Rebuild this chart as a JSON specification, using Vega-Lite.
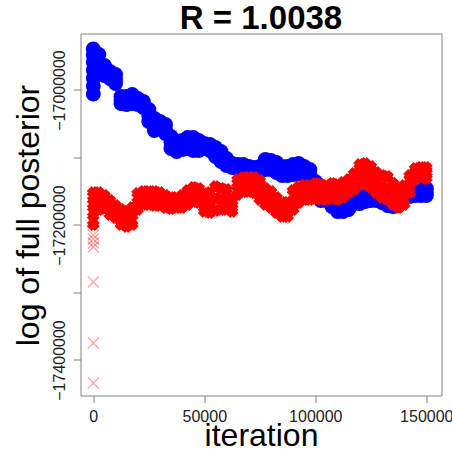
{
"$schema": "https://vega.github.io/schema/vega-lite/v6.json",
"width": 361,
"height": 362,
"autosize": {"type": "none"},
"padding": {"left": 80.5, "top": 33.5, "right": 10.5, "bottom": 55.5},
"background": "white",
"config": {
  "view": {"stroke": "#808080", "strokeWidth": 1},
  "font": "Liberation Sans"
},
"title": {"text": "R = 1.0038", "font": "Liberation Sans", "fontSize": 33, "fontWeight": "bold", "color": "#000", "anchor": "middle", "frame": "group", "baseline": "alphabetic", "offset": 1, "dy": 29.5},
"datasets": {
"b": [
{"iter":0,"lp":-17005900},{"iter":0,"lp":-16994100},{"iter":0,"lp":-16982200},{"iter":0,"lp":-16970400},{"iter":0,"lp":-16958500},{"iter":0,"lp":-16948100},{"iter":0,"lp":-16939300},
{"iter":2500,"lp":-16947400},{"iter":2500,"lp":-16958500},{"iter":2500,"lp":-16969600},
{"iter":5000,"lp":-16963700},{"iter":5000,"lp":-16971100},{"iter":5000,"lp":-16978500},
{"iter":7500,"lp":-16972600},{"iter":7500,"lp":-16977800},{"iter":7500,"lp":-16983000},
{"iter":10000,"lp":-16977000},{"iter":10000,"lp":-16983700},{"iter":10000,"lp":-16990400},
{"iter":12500,"lp":-17009600},{"iter":12500,"lp":-17014800},{"iter":12500,"lp":-17020000},
{"iter":15000,"lp":-17009600},{"iter":15000,"lp":-17014800},{"iter":15000,"lp":-17021500},
{"iter":17500,"lp":-17006700},{"iter":17500,"lp":-17011900},{"iter":17500,"lp":-17020000},
{"iter":20000,"lp":-17012600},{"iter":20000,"lp":-17017800},{"iter":20000,"lp":-17021500},
{"iter":22500,"lp":-17017000},{"iter":22500,"lp":-17021500},{"iter":22500,"lp":-17025900},
{"iter":25000,"lp":-17028900},{"iter":25000,"lp":-17037800},{"iter":25000,"lp":-17046700},
{"iter":27500,"lp":-17042200},{"iter":27500,"lp":-17051100},{"iter":27500,"lp":-17060000},
{"iter":30000,"lp":-17046700},{"iter":30000,"lp":-17051900},{"iter":30000,"lp":-17057000},
{"iter":32500,"lp":-17051100},{"iter":32500,"lp":-17057800},{"iter":32500,"lp":-17064400},
{"iter":35000,"lp":-17068900},{"iter":35000,"lp":-17077800},{"iter":35000,"lp":-17086700},
{"iter":37500,"lp":-17079300},{"iter":37500,"lp":-17085200},{"iter":37500,"lp":-17091100},
{"iter":40000,"lp":-17074800},{"iter":40000,"lp":-17081500},{"iter":40000,"lp":-17088100},
{"iter":42500,"lp":-17070400},{"iter":42500,"lp":-17078500},{"iter":42500,"lp":-17086700},
{"iter":45000,"lp":-17070400},{"iter":45000,"lp":-17080000},{"iter":45000,"lp":-17089600},
{"iter":47500,"lp":-17074800},{"iter":47500,"lp":-17082200},{"iter":47500,"lp":-17089600},
{"iter":50000,"lp":-17079300},{"iter":50000,"lp":-17083000},{"iter":50000,"lp":-17086700},
{"iter":52500,"lp":-17080700},{"iter":52500,"lp":-17085200},{"iter":52500,"lp":-17089600},
{"iter":55000,"lp":-17085200},{"iter":55000,"lp":-17091900},{"iter":55000,"lp":-17098500},
{"iter":57500,"lp":-17091100},{"iter":57500,"lp":-17098500},{"iter":57500,"lp":-17105900},
{"iter":60000,"lp":-17101500},{"iter":60000,"lp":-17106700},{"iter":60000,"lp":-17111900},
{"iter":62500,"lp":-17108900},{"iter":62500,"lp":-17111900},{"iter":62500,"lp":-17114800},
{"iter":65000,"lp":-17110400},{"iter":65000,"lp":-17113300},{"iter":65000,"lp":-17116300},
{"iter":67500,"lp":-17110400},{"iter":67500,"lp":-17113300},{"iter":67500,"lp":-17116300},
{"iter":70000,"lp":-17113300},{"iter":70000,"lp":-17114100},{"iter":70000,"lp":-17114800},
{"iter":72500,"lp":-17114800},{"iter":72500,"lp":-17116300},{"iter":72500,"lp":-17117800},
{"iter":75000,"lp":-17113300},{"iter":75000,"lp":-17117000},{"iter":75000,"lp":-17120700},
{"iter":77500,"lp":-17103000},{"iter":77500,"lp":-17110400},{"iter":77500,"lp":-17117800},
{"iter":80000,"lp":-17104400},{"iter":80000,"lp":-17111100},{"iter":80000,"lp":-17117800},
{"iter":82500,"lp":-17107400},{"iter":82500,"lp":-17114800},{"iter":82500,"lp":-17122200},
{"iter":85000,"lp":-17113300},{"iter":85000,"lp":-17120000},{"iter":85000,"lp":-17126700},
{"iter":87500,"lp":-17113300},{"iter":87500,"lp":-17120000},{"iter":87500,"lp":-17126700},
{"iter":90000,"lp":-17110400},{"iter":90000,"lp":-17117800},{"iter":90000,"lp":-17125200},
{"iter":92500,"lp":-17108900},{"iter":92500,"lp":-17116300},{"iter":92500,"lp":-17123700},
{"iter":95000,"lp":-17113300},{"iter":95000,"lp":-17120000},{"iter":95000,"lp":-17125200},
{"iter":97500,"lp":-17117800},{"iter":97500,"lp":-17124400},{"iter":97500,"lp":-17131100},
{"iter":100000,"lp":-17135600},{"iter":100000,"lp":-17144400},{"iter":100000,"lp":-17153300},
{"iter":102500,"lp":-17150400},{"iter":102500,"lp":-17157000},{"iter":102500,"lp":-17163700},
{"iter":105000,"lp":-17150400},{"iter":105000,"lp":-17157000},{"iter":105000,"lp":-17163700},
{"iter":107500,"lp":-17160700},{"iter":107500,"lp":-17166700},{"iter":107500,"lp":-17172600},
{"iter":110000,"lp":-17166700},{"iter":110000,"lp":-17173300},{"iter":110000,"lp":-17180000},
{"iter":112500,"lp":-17166700},{"iter":112500,"lp":-17173300},{"iter":112500,"lp":-17180000},
{"iter":115000,"lp":-17163700},{"iter":115000,"lp":-17170400},{"iter":115000,"lp":-17177000},
{"iter":117500,"lp":-17154800},{"iter":117500,"lp":-17161500},{"iter":117500,"lp":-17168200},
{"iter":120000,"lp":-17153300},{"iter":120000,"lp":-17160700},{"iter":120000,"lp":-17168200},
{"iter":122500,"lp":-17151900},{"iter":122500,"lp":-17158500},{"iter":122500,"lp":-17165200},
{"iter":125000,"lp":-17151900},{"iter":125000,"lp":-17157800},{"iter":125000,"lp":-17163700},
{"iter":127500,"lp":-17151900},{"iter":127500,"lp":-17157800},{"iter":127500,"lp":-17163700},
{"iter":130000,"lp":-17154800},{"iter":130000,"lp":-17160700},{"iter":130000,"lp":-17166700},
{"iter":132500,"lp":-17157800},{"iter":132500,"lp":-17164400},{"iter":132500,"lp":-17171100},
{"iter":135000,"lp":-17159300},{"iter":135000,"lp":-17165900},{"iter":135000,"lp":-17172600},
{"iter":137500,"lp":-17157800},{"iter":137500,"lp":-17164400},{"iter":137500,"lp":-17171100},
{"iter":140000,"lp":-17147400},{"iter":140000,"lp":-17154100},{"iter":140000,"lp":-17160700},
{"iter":142500,"lp":-17144400},{"iter":142500,"lp":-17151100},{"iter":142500,"lp":-17157800},
{"iter":145000,"lp":-17143000},{"iter":145000,"lp":-17149600},{"iter":145000,"lp":-17156300},
{"iter":147500,"lp":-17144400},{"iter":147500,"lp":-17150400},{"iter":147500,"lp":-17156300},
{"iter":150000,"lp":-17145900},{"iter":150000,"lp":-17151100},{"iter":150000,"lp":-17156300}
],
"r": [
{"iter":0,"lp":-17151900},{"iter":0,"lp":-17163000},{"iter":0,"lp":-17174800},{"iter":0,"lp":-17186700},{"iter":0,"lp":-17199300},
{"iter":2500,"lp":-17151900},{"iter":2500,"lp":-17164400},{"iter":2500,"lp":-17177000},
{"iter":5000,"lp":-17156300},{"iter":5000,"lp":-17165900},{"iter":5000,"lp":-17175600},
{"iter":7500,"lp":-17163700},{"iter":7500,"lp":-17174100},{"iter":7500,"lp":-17184400},
{"iter":10000,"lp":-17171100},{"iter":10000,"lp":-17180000},{"iter":10000,"lp":-17188900},
{"iter":12500,"lp":-17177000},{"iter":12500,"lp":-17188200},{"iter":12500,"lp":-17199300},
{"iter":15000,"lp":-17180000},{"iter":15000,"lp":-17191100},{"iter":15000,"lp":-17202200},
{"iter":17500,"lp":-17174100},{"iter":17500,"lp":-17186700},{"iter":17500,"lp":-17199300},
{"iter":20000,"lp":-17153300},{"iter":20000,"lp":-17165200},{"iter":20000,"lp":-17177000},
{"iter":22500,"lp":-17150400},{"iter":22500,"lp":-17160000},{"iter":22500,"lp":-17169600},
{"iter":25000,"lp":-17150400},{"iter":25000,"lp":-17160000},{"iter":25000,"lp":-17169600},
{"iter":27500,"lp":-17150400},{"iter":27500,"lp":-17160700},{"iter":27500,"lp":-17171100},
{"iter":30000,"lp":-17151900},{"iter":30000,"lp":-17161500},{"iter":30000,"lp":-17171100},
{"iter":32500,"lp":-17156300},{"iter":32500,"lp":-17165200},{"iter":32500,"lp":-17174100},
{"iter":35000,"lp":-17159300},{"iter":35000,"lp":-17167400},{"iter":35000,"lp":-17175600},
{"iter":37500,"lp":-17159300},{"iter":37500,"lp":-17166700},{"iter":37500,"lp":-17174100},
{"iter":40000,"lp":-17156300},{"iter":40000,"lp":-17165200},{"iter":40000,"lp":-17174100},
{"iter":42500,"lp":-17148900},{"iter":42500,"lp":-17159300},{"iter":42500,"lp":-17169600},
{"iter":45000,"lp":-17144400},{"iter":45000,"lp":-17154800},{"iter":45000,"lp":-17165200},
{"iter":47500,"lp":-17145900},{"iter":47500,"lp":-17156300},{"iter":47500,"lp":-17166700},
{"iter":50000,"lp":-17153300},{"iter":50000,"lp":-17166700},{"iter":50000,"lp":-17180000},
{"iter":52500,"lp":-17151900},{"iter":52500,"lp":-17166700},{"iter":52500,"lp":-17181500},
{"iter":55000,"lp":-17143000},{"iter":55000,"lp":-17160700},{"iter":55000,"lp":-17178500},
{"iter":57500,"lp":-17145900},{"iter":57500,"lp":-17161500},{"iter":57500,"lp":-17177000},
{"iter":60000,"lp":-17147400},{"iter":60000,"lp":-17162200},{"iter":60000,"lp":-17177000},
{"iter":62500,"lp":-17160700},{"iter":62500,"lp":-17170400},{"iter":62500,"lp":-17180000},
{"iter":65000,"lp":-17132600},{"iter":65000,"lp":-17143700},{"iter":65000,"lp":-17154800},
{"iter":67500,"lp":-17129600},{"iter":67500,"lp":-17140000},{"iter":67500,"lp":-17150400},
{"iter":70000,"lp":-17129600},{"iter":70000,"lp":-17140000},{"iter":70000,"lp":-17150400},
{"iter":72500,"lp":-17129600},{"iter":72500,"lp":-17140700},{"iter":72500,"lp":-17151900},
{"iter":75000,"lp":-17134100},{"iter":75000,"lp":-17148200},{"iter":75000,"lp":-17162200},
{"iter":77500,"lp":-17145900},{"iter":77500,"lp":-17157800},{"iter":77500,"lp":-17169600},
{"iter":80000,"lp":-17150400},{"iter":80000,"lp":-17162200},{"iter":80000,"lp":-17174100},
{"iter":82500,"lp":-17159300},{"iter":82500,"lp":-17170400},{"iter":82500,"lp":-17181500},
{"iter":85000,"lp":-17166700},{"iter":85000,"lp":-17177000},{"iter":85000,"lp":-17187400},
{"iter":87500,"lp":-17166700},{"iter":87500,"lp":-17177000},{"iter":87500,"lp":-17187400},
{"iter":90000,"lp":-17148900},{"iter":90000,"lp":-17163000},{"iter":90000,"lp":-17177000},
{"iter":92500,"lp":-17143000},{"iter":92500,"lp":-17154800},{"iter":92500,"lp":-17166700},
{"iter":95000,"lp":-17141500},{"iter":95000,"lp":-17151900},{"iter":95000,"lp":-17162200},
{"iter":97500,"lp":-17141500},{"iter":97500,"lp":-17151900},{"iter":97500,"lp":-17162200},
{"iter":100000,"lp":-17138500},{"iter":100000,"lp":-17149600},{"iter":100000,"lp":-17160700},
{"iter":102500,"lp":-17140000},{"iter":102500,"lp":-17151100},{"iter":102500,"lp":-17162200},
{"iter":105000,"lp":-17141500},{"iter":105000,"lp":-17151900},{"iter":105000,"lp":-17162200},
{"iter":107500,"lp":-17138500},{"iter":107500,"lp":-17149600},{"iter":107500,"lp":-17160700},
{"iter":110000,"lp":-17140000},{"iter":110000,"lp":-17151100},{"iter":110000,"lp":-17162200},
{"iter":112500,"lp":-17137000},{"iter":112500,"lp":-17148200},{"iter":112500,"lp":-17159300},
{"iter":115000,"lp":-17132600},{"iter":115000,"lp":-17142200},{"iter":115000,"lp":-17151900},
{"iter":117500,"lp":-17123700},{"iter":117500,"lp":-17135600},{"iter":117500,"lp":-17147400},
{"iter":120000,"lp":-17110400},{"iter":120000,"lp":-17125200},{"iter":120000,"lp":-17140000},
{"iter":122500,"lp":-17108900},{"iter":122500,"lp":-17124400},{"iter":122500,"lp":-17140000},
{"iter":125000,"lp":-17113300},{"iter":125000,"lp":-17128900},{"iter":125000,"lp":-17144400},
{"iter":127500,"lp":-17122200},{"iter":127500,"lp":-17137000},{"iter":127500,"lp":-17151900},
{"iter":130000,"lp":-17126700},{"iter":130000,"lp":-17143000},{"iter":130000,"lp":-17159300},
{"iter":132500,"lp":-17128100},{"iter":132500,"lp":-17145200},{"iter":132500,"lp":-17162200},
{"iter":135000,"lp":-17138500},{"iter":135000,"lp":-17154100},{"iter":135000,"lp":-17169600},
{"iter":137500,"lp":-17145900},{"iter":137500,"lp":-17160000},{"iter":137500,"lp":-17174100},
{"iter":140000,"lp":-17141500},{"iter":140000,"lp":-17155600},{"iter":140000,"lp":-17169600},
{"iter":142500,"lp":-17126700},{"iter":142500,"lp":-17139300},{"iter":142500,"lp":-17151900},
{"iter":145000,"lp":-17116300},{"iter":145000,"lp":-17124400},{"iter":145000,"lp":-17132600},
{"iter":147500,"lp":-17114800},{"iter":147500,"lp":-17122200},{"iter":147500,"lp":-17129600},
{"iter":150000,"lp":-17114800},{"iter":150000,"lp":-17123000},{"iter":150000,"lp":-17131100}
],
"p": [
{"iter":0,"lp":-17214800},{"iter":0,"lp":-17220700},{"iter":0,"lp":-17226700},{"iter":0,"lp":-17232600},
{"iter":0,"lp":-17284400},{"iter":0,"lp":-17374800},{"iter":0,"lp":-17434100}
]
},
"encoding": {
  "x": {"field": "iter", "type": "quantitative",
    "scale": {"domain": [-5766, 156847], "nice": false, "zero": false},
    "axis": {"values": [0, 50000, 100000, 150000], "format": "d", "title": "iteration",
      "domain": false, "grid": false, "tickSize": 7, "tickColor": "#808080", "tickWidth": 1,
      "labelFont": "Liberation Sans", "labelFontSize": 16, "labelColor": "#222", "labelPadding": 6,
      "labelFlush": false, "labelOverlap": false, "labelAlign": "center", "labelBaseline": "top",
      "titleFont": "Liberation Sans", "titleFontSize": 32, "titleFontWeight": "normal", "titleColor": "#000",
      "titleX": 180.5, "titleY": 50, "titleAlign": "center", "titleBaseline": "alphabetic"}},
  "y": {"field": "lp", "type": "quantitative",
    "scale": {"domain": [-17452600, -16916300], "nice": false, "zero": false},
    "axis": {"values": [-17000000, -17100000, -17200000, -17300000, -17400000],
      "labelExpr": "datum.value % 200000 == 0 ? format(datum.value, 'd') : ''",
      "title": "log of full posterior",
      "domain": false, "grid": false, "tickSize": 7.4, "tickColor": "#808080", "tickWidth": 1,
      "labelFont": "Liberation Sans", "labelFontSize": 16, "labelColor": "#222", "labelPadding": 8.3,
      "labelAngle": 270, "labelAlign": "center", "labelBaseline": "alphabetic", "labelOverlap": false, "labelFlush": false,
      "titleFont": "Liberation Sans", "titleFontSize": 32, "titleFontWeight": "normal", "titleColor": "#000",
      "titleAngle": 270, "titleX": -42.2, "titleY": 181.5, "titleAlign": "center", "titleBaseline": "alphabetic"}}
},
"layer": [
  {"data": {"name": "b"}, "mark": {"type": "point", "shape": "circle", "filled": true, "size": 225, "color": "#0000ff", "opacity": 1}},
  {"data": {"name": "r"}, "mark": {"type": "point", "shape": "M-1,-0.25L-0.25,-1L0,-0.75L0.25,-1L1,-0.25L0.75,0L1,0.25L0.25,1L0,0.75L-0.25,1L-1,0.25L-0.75,0Z", "filled": true, "size": 169, "color": "#ff0000", "opacity": 1}},
  {"data": {"name": "p"}, "mark": {"type": "point", "shape": "M-1,-1L1,1M-1,1L1,-1", "filled": false, "size": 121, "color": "#ff0000", "opacity": 0.35, "strokeWidth": 1.3}}
]
}
